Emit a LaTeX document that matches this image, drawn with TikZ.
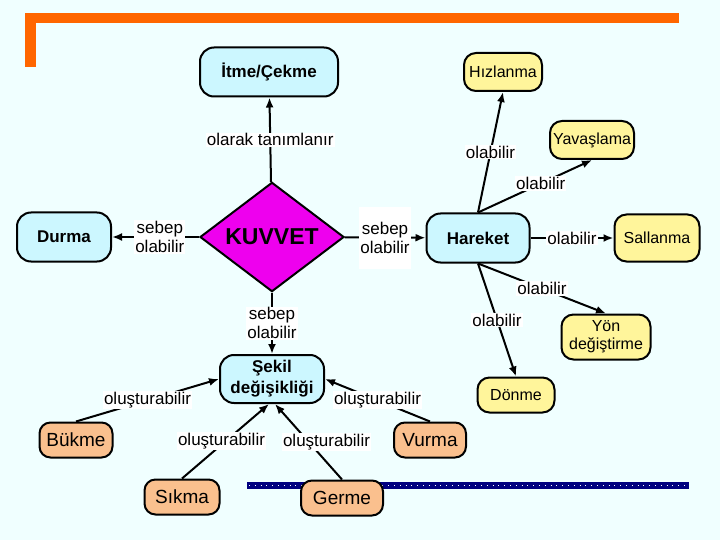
\documentclass[tikz,border=0pt]{standalone}
\usepackage{fontspec}
\setmainfont{Liberation Sans}
\usepackage{tikz}
\usetikzlibrary{arrows.meta, shapes.geometric, backgrounds}

\definecolor{bgcol}{RGB}{240,255,255}
\definecolor{framecol}{RGB}{255,102,0}
\definecolor{barcol}{RGB}{0,0,128}
\definecolor{cyanfill}{RGB}{204,247,255}
\definecolor{yelfill}{RGB}{255,245,155}
\definecolor{orgfill}{RGB}{250,192,142}
\definecolor{kuvfill}{RGB}{238,0,238}

\begin{document}
\begin{tikzpicture}[
      x=1pt, y=-1pt,
      cyannode/.style={draw, line width=2pt, rounded corners=14pt, align=center,
                       minimum height=49pt, inner sep=2pt, fill=cyanfill,
                       font=\fontsize{17}{21}\selectfont\bfseries},
      yelnode/.style={draw, line width=2pt, rounded corners=12pt, align=center,
                      minimum height=38pt, inner sep=1pt, fill=yelfill,
                      font=\fontsize{16}{18}\selectfont},
      orgnode/.style={draw, line width=2pt, rounded corners=11pt, align=center,
                      minimum height=35pt, inner sep=1pt, fill=orgfill,
                      font=\fontsize{19}{21}\selectfont},
      kuvvet/.style={draw, diamond, line width=2pt, fill=kuvfill,
                     minimum width=144pt, minimum height=99pt, inner sep=0pt,
                     font=\fontsize{23}{25}\selectfont\bfseries},
      lbl/.style={fill=white, inner sep=1pt, align=center,
                  font=\fontsize{17}{19}\selectfont},
      >={Latex[length=10pt, width=8pt]},
      every path/.style={line width=2pt}
    ]

    \useasboundingbox (0,0) rectangle (720,540);

    \node[cyannode, minimum width=138pt] (itme) at (269,72) {İtme/Çekme};
    \node[yelnode, minimum width=78pt] (hizlanma) at (503,72) {Hızlanma};
    \node[yelnode, minimum width=84pt] (yavaslama) at (592,140) {Yavaşlama};

    \node[cyannode, minimum width=94pt] (durma) at (64,237) {Durma};
    \node[kuvvet] (kuvvetn) at (272,237) {KUVVET};
    \node[cyannode, minimum width=103pt] (hareket) at (478,238) {Hareket};
    \node[yelnode, minimum width=85pt, minimum height=47pt] (sallanma) at (657,238) {Sallanma};

    \node[yelnode, minimum width=89pt, minimum height=45pt] (yon) at (606,337) {Yön\\değiştirme};
    \node[yelnode, minimum width=77pt, minimum height=35pt] (donme) at (516,395) {Dönme};
    \node[cyannode, minimum width=104pt, minimum height=48pt] (sekil) at (272,379) {Şekil\\değişikliği};

    \node[orgnode, minimum width=73pt] (bukme) at (76,440) {Bükme};
    \node[orgnode, minimum width=72pt] (vurma) at (430,440) {Vurma};
    \node[orgnode, minimum width=75pt] (sikma) at (182,497) {Sıkma};
    \node[orgnode, minimum width=82pt] (germe) at (342,498) {Germe};

    \draw[->] (kuvvetn) -- node[lbl]{olarak tanımlanır} (itme);
    \draw[->] (kuvvetn) -- node[lbl, pos=0.45]{sebep\\olabilir} (durma);
    \draw[->] (kuvvetn) -- node[lbl, minimum height=62pt]{sebep\\olabilir} (hareket);
    \draw[->] (kuvvetn) -- node[lbl]{sebep\\olabilir} (sekil);

    \draw[->] (hareket.north) -- node[lbl]{olabilir} (hizlanma.south);
    \draw[->] (hareket.north) -- node[lbl, pos=0.55]{olabilir} (yavaslama.south);
    \draw[->] (hareket) -- node[lbl]{olabilir} (sallanma);
    \draw[->] (hareket.south) -- node[lbl]{olabilir} (yon.north);
    \draw[->] (hareket.south) -- node[lbl]{olabilir} (donme.north);

    \draw[->] (bukme.north) -- node[lbl]{oluşturabilir} (sekil.west);
    \draw[->] (sikma.north) -- node[lbl, xshift=-4pt]{oluşturabilir} ([xshift=-3pt]sekil.south);
    \draw[->] (germe.north) -- node[lbl, xshift=18pt]{oluşturabilir} ([xshift=3pt]sekil.south);
    \draw[->] (vurma.north) -- node[lbl]{oluşturabilir} (sekil.east);

    \begin{pgfonlayer}{background}
      \fill[bgcol] (0,0) rectangle (720,540);
      % orange frame
      \fill[framecol] (25,13) rectangle (679,23);
      \fill[framecol] (25,13) rectangle (36,67);
      % dotted blue bar
      \fill[barcol] (247,482) rectangle (689,489);
      \draw[white, line width=0.8pt, dash pattern=on 0.8pt off 5pt] (249,485.5) -- (688,485.5);
    \end{pgfonlayer}
  \end{tikzpicture}
\end{document}
